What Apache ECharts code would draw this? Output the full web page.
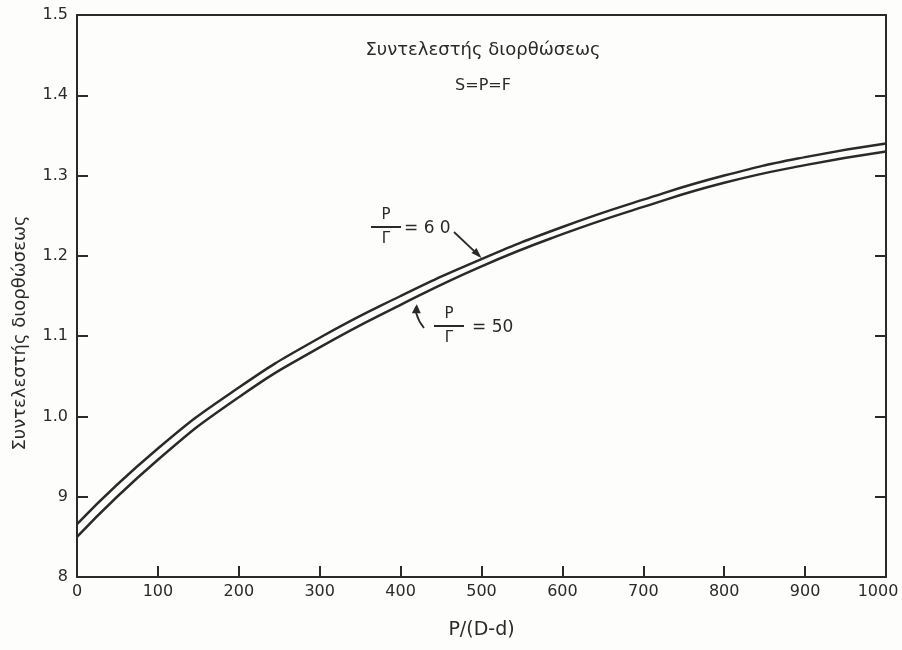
<!DOCTYPE html>
<html>
<head>
<meta charset="utf-8">
<script src="https://cdn.jsdelivr.net/npm/echarts@6/dist/echarts.min.js"></script>
<style>
html,body{margin:0;padding:0;background:#fdfdfb;}
#chart{width:902px;height:650px;}
</style>
</head>
<body>
<div id="chart"></div>
<script>
var xValues = [0, 100, 200, 300, 400, 500, 600, 700, 800, 900, 1000];
var ratio60 = [0.866, 0.960, 1.036, 1.098, 1.150, 1.196, 1.236, 1.270, 1.300, 1.323, 1.340];
var ratio50 = [0.850, 0.946, 1.024, 1.086, 1.139, 1.187, 1.227, 1.261, 1.291, 1.313, 1.330];
var yTickLabels = {"0.8": "8", "0.9": "9", "1": "1.0", "1.1": "1.1", "1.2": "1.2", "1.3": "1.3", "1.4": "1.4", "1.5": "1.5"};
var titleText = "Συντελεστής διορθώσεως";
var subtitleText = "S=P=F";
var yName = "Συντελεστής διορθώσεως";
var xName = "P/(D-d)";

var ink = '#2a2a2a';
var font = '"DejaVu Sans", sans-serif';

function pairs(xs, ys) { return xs.map(function (x, i) { return [x, ys[i]]; }); }

var chart = echarts.init(document.getElementById('chart'), null, {renderer: 'canvas'});
var option = {
  backgroundColor: '#fdfdfb',
  animation: false,
  grid: {left: 77, right: 16, top: 15, bottom: 73, show: false, containLabel: false, outerBoundsMode: 'none'},
  xAxis: [{
    type: 'value', min: 0, max: 1000, interval: 100,
    name: xName, nameLocation: 'middle', nameGap: 44,
    nameTextStyle: {color: ink, fontSize: 19, fontFamily: font},
    axisLine: {show: true, onZero: false, lineStyle: {color: ink, width: 2}},
    axisTick: {show: true, inside: true, length: 11, lineStyle: {color: ink, width: 2}},
    axisLabel: {color: ink, fontSize: 16, fontFamily: font, margin: 7,
      formatter: function (v) { return v === 1000 ? '{last|' + v + '}' : String(v); },
      rich: {last: {color: ink, fontSize: 16, fontFamily: font, padding: [0, 16, 0, 0]}}},
    splitLine: {show: false}
  }, {
    type: 'value', min: 0, max: 1000, position: 'top',
    axisLine: {show: true, onZero: false, lineStyle: {color: ink, width: 2}},
    axisTick: {show: false}, axisLabel: {show: false}, splitLine: {show: false}
  }],
  yAxis: [{
    type: 'value', min: 0.8, max: 1.5, interval: 0.1,
    axisLine: {show: true, onZero: false, lineStyle: {color: ink, width: 2}},
    axisTick: {show: true, inside: true, length: 11, lineStyle: {color: ink, width: 2}},
    axisLabel: {color: ink, fontSize: 16, fontFamily: font, margin: 9,
      formatter: function (v) { var k = String(Math.round(v * 10) / 10); return yTickLabels[k] || k; }},
    splitLine: {show: false}
  }, {
    type: 'value', min: 0.8, max: 1.5, interval: 0.1, position: 'right',
    axisLine: {show: true, onZero: false, lineStyle: {color: ink, width: 2}},
    axisTick: {show: true, inside: true, length: 11, lineStyle: {color: ink, width: 2}},
    axisLabel: {show: false}, splitLine: {show: false}
  }],
  series: [{
    name: 'P/Γ = 60', type: 'line', smooth: true, symbol: 'none',
    data: pairs(xValues, ratio60),
    lineStyle: {color: ink, width: 2.5}
  }, {
    name: 'P/Γ = 50', type: 'line', smooth: true, symbol: 'none',
    data: pairs(xValues, ratio50),
    lineStyle: {color: ink, width: 2.5}
  }]
};
chart.setOption(option);

function frac(px, py, rest, restX) {
  return [
    {type: 'text', style: {text: 'P', x: px, y: py - 12, align: 'center', verticalAlign: 'middle', fill: ink, font: '15px ' + font}},
    {type: 'line', shape: {x1: px - 15, y1: py, x2: px + 15, y2: py}, style: {stroke: ink, lineWidth: 2}},
    {type: 'text', style: {text: 'Γ', x: px, y: py + 12, align: 'center', verticalAlign: 'middle', fill: ink, font: '15px ' + font}},
    {type: 'text', style: {text: rest, x: restX, y: py + 2, align: 'left', verticalAlign: 'middle', fill: ink, font: '17px ' + font}}
  ];
}

var tip60 = chart.convertToPixel({gridIndex: 0}, [xValues[5], ratio60[5]]);
var tip50 = chart.convertToPixel({gridIndex: 0}, [420, 1.141]);

var elems = [
  {type: 'text', style: {text: titleText, x: 483, y: 50, align: 'center', verticalAlign: 'middle', fill: ink, font: '18px ' + font}},
  {type: 'text', style: {text: subtitleText, x: 483, y: 86, align: 'center', verticalAlign: 'middle', fill: ink, font: '16px ' + font}},
  {type: 'text', rotation: Math.PI / 2, x: 20, y: 333,
    style: {text: yName, x: 0, y: 0, align: 'center', verticalAlign: 'middle', fill: ink, font: '18px ' + font}}
];
elems = elems.concat(frac(386, 227, '= 6 0', 404));
elems = elems.concat(frac(449, 326, '= 50', 472));
elems.push({type: 'line', shape: {x1: 454, y1: 232, x2: tip60[0] - 2, y2: tip60[1] - 3}, style: {stroke: ink, lineWidth: 1.8}});
elems.push({type: 'polygon', shape: {points: [[tip60[0], tip60[1] - 1], [tip60[0] - 10, tip60[1] - 6], [tip60[0] - 5, tip60[1] - 11]]}, style: {fill: ink}});
elems.push({type: 'bezierCurve', shape: {x1: 424, y1: 328, x2: tip50[0], y2: tip50[1] + 4, cpx1: 416, cpy1: 318, cpx2: 414, cpy2: 306}, style: {stroke: ink, lineWidth: 1.8, fill: null}});
elems.push({type: 'polygon', shape: {points: [[tip50[0], tip50[1] + 1], [tip50[0] - 5, tip50[1] + 10], [tip50[0] + 4, tip50[1] + 10]]}, style: {fill: ink}});
chart.setOption({graphic: {elements: elems}});
</script>
</body>
</html>
